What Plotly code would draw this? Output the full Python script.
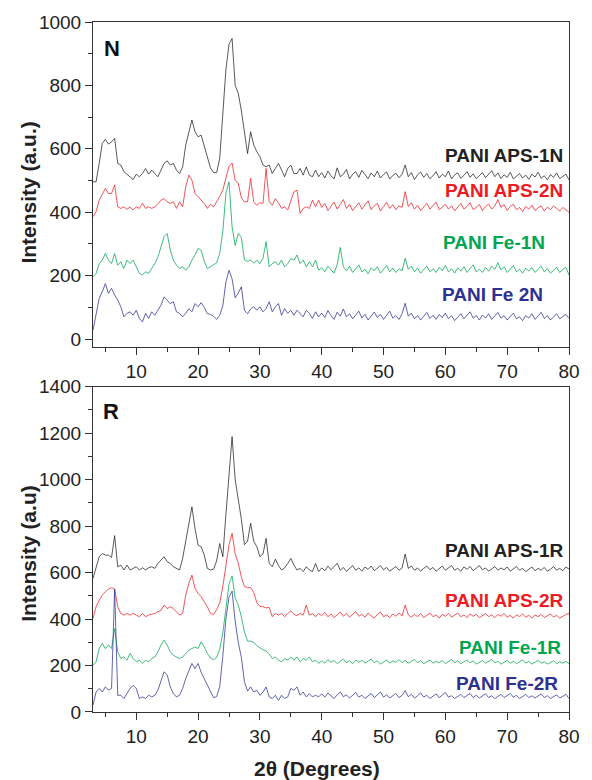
import plotly.graph_objects as go

# 2-theta scan positions (degrees)
two_theta = [
    3.0, 3.5, 4.0, 4.5, 5.0, 5.5, 6.0, 6.5, 7.0, 7.5,
    8.0, 8.5, 9.0, 9.5, 10.0, 10.5, 11.0, 11.5, 12.0, 12.5,
    13.0, 13.5, 14.0, 14.5, 15.0, 15.5, 16.0, 16.5, 17.0, 17.5,
    18.0, 18.5, 19.0, 19.5, 20.0, 20.5, 21.0, 21.5, 22.0, 22.5,
    23.0, 23.5, 24.0, 24.5, 25.0, 25.5, 26.0, 26.5, 27.0, 27.5,
    28.0, 28.5, 29.0, 29.5, 30.0, 30.5, 31.0, 31.5, 32.0, 32.5,
    33.0, 33.5, 34.0, 34.5, 35.0, 35.5, 36.0, 36.5, 37.0, 37.5,
    38.0, 38.5, 39.0, 39.5,
    40.0, 40.5, 41.0, 41.5, 42.0, 42.5, 43.0, 43.5, 44.0, 44.5,
    45.0, 45.5, 46.0, 46.5, 47.0, 47.5, 48.0, 48.5, 49.0, 49.5,
    50.0, 50.5, 51.0, 51.5, 52.0, 52.5, 53.0, 53.5, 54.0, 54.5,
    55.0, 55.5, 56.0, 56.5, 57.0, 57.5, 58.0, 58.5, 59.0, 59.5,
    60.0, 60.5, 61.0, 61.5, 62.0, 62.5, 63.0, 63.5, 64.0, 64.5,
    65.0, 65.5, 66.0, 66.5, 67.0, 67.5, 68.0, 68.5, 69.0, 69.5,
    70.0, 70.5, 71.0, 71.5, 72.0, 72.5, 73.0, 73.5, 74.0, 74.5,
    75.0, 75.5, 76.0, 76.5, 77.0, 77.5, 78.0, 78.5, 79.0, 79.5,
    80.0,
]

# ---- panel N ----
aps_1n = [
    496, 496, 554, 617, 630, 615, 622, 633, 554, 549,
    528, 520, 514, 503, 520, 512, 522, 538, 520, 533,
    522, 512, 533, 554, 562, 549, 554, 533, 522, 543,
    612, 649, 691, 654, 638, 643, 607, 580, 540, 525,
    525, 570, 700, 850, 930, 948, 800, 775, 720, 650,
    585, 654, 612, 591, 575, 549, 543, 549, 522, 538,
    554, 533, 512, 538, 549, 522, 522, 538, 517, 543,
    517, 512, 533, 512,
    525, 508, 530, 515, 505, 540, 512, 520, 535, 505,
    520, 528, 510, 532, 518, 506, 524, 512, 530, 508,
    519, 527, 505, 516, 523, 509, 520, 549, 512, 525,
    503, 518, 527, 510, 522, 506, 515, 528, 508, 520,
    512, 530, 505, 518, 524, 507, 516, 528, 510, 521,
    506, 517, 525, 509, 520, 531, 512, 524, 506, 518,
    510, 526, 505, 515, 522, 508, 517, 504, 520, 511,
    526, 507, 515, 502, 519, 510, 524, 506, 513, 520,
    502,
]
aps_2n = [
    386, 402, 438, 459, 475, 459, 459, 486, 417, 412,
    417, 409, 417, 407, 417, 412, 428, 412, 417, 412,
    417, 426, 438, 443, 433, 428, 433, 412, 433, 417,
    480, 517, 501, 459, 449, 438, 428, 412, 425, 417,
    433, 450, 470, 505, 545, 555, 500, 491, 445, 433,
    433, 507, 433, 422, 430, 428, 538, 433, 422, 443,
    430, 412, 417, 407, 438, 464, 470, 396, 412, 417,
    412, 438, 417, 438,
    415, 428, 405, 420, 432, 410, 424, 440, 412, 425,
    405, 418, 430, 410, 422, 436, 408, 420, 428, 404,
    418, 431, 412, 424, 408, 420, 415, 465, 418, 430,
    410, 422, 405, 418, 428, 410, 420, 432, 408, 416,
    425, 410, 420, 404, 415, 428, 410, 418, 430, 408,
    416, 424, 405, 418, 426, 410, 420, 440, 415, 424,
    406, 418, 425, 408, 415, 402, 418, 410, 422, 405,
    414, 420, 404, 416, 408, 420, 412, 404, 415, 408,
    400,
]
fe_1n = [
    196, 207, 238, 249, 270, 249, 238, 270, 233, 244,
    223, 249, 238, 249, 228, 207, 202, 212, 207, 223,
    238, 259, 291, 323, 333, 281, 249, 233, 223, 228,
    217, 228, 249, 265, 286, 280, 245, 223, 228, 233,
    240, 270, 340, 459, 496, 354, 295, 333, 320, 250,
    245, 249, 240, 249, 238, 255, 307, 228, 238, 244,
    233, 249, 228, 238, 254, 249, 265, 238, 249, 228,
    244, 228, 249, 217,
    225, 212, 230, 218, 208, 235, 289, 228, 215, 230,
    210, 222, 234, 212, 220, 206, 225, 215, 228, 208,
    220, 232, 212, 224, 210, 222, 215, 255, 220, 230,
    212, 224, 208, 220, 230, 212, 222, 210, 226, 215,
    232, 212, 222, 208, 225, 214, 228, 210, 222, 234,
    212, 220, 210, 226, 214, 230, 220, 241, 218, 228,
    210, 222, 232, 212, 220, 208, 224, 214, 226, 210,
    220, 230, 212, 222, 208, 218, 226, 210, 220, 226,
    202,
]
fe_2n = [
    28, 81, 128, 149, 175, 144, 160, 139, 123, 102,
    70, 81, 86, 75, 91, 65, 54, 81, 65, 86,
    75, 91, 107, 133, 123, 112, 118, 86, 81, 70,
    81, 96, 86, 112, 102, 115, 100, 80, 78, 72,
    62, 75, 105, 180, 217, 190, 130, 145, 165, 90,
    80, 95, 102, 91, 102, 86, 96, 118, 86, 102,
    112, 75, 96, 81, 91, 75, 91, 81, 70, 91,
    81, 65, 86, 70,
    82, 68, 90, 74, 62, 85, 72, 95, 70, 80,
    64, 76, 88, 66, 78, 60, 74, 85, 68, 78,
    62, 75, 88, 66, 74, 62, 80, 113, 72, 82,
    64, 74, 60, 72, 84, 65, 75, 62, 78, 68,
    82, 64, 74, 58, 70, 80, 64, 74, 86, 66,
    74, 60, 76, 66, 80, 62, 72, 84, 66, 74,
    60, 72, 82, 64, 70, 58, 74, 66, 80, 62,
    72, 84, 65, 74, 60, 70, 80, 64, 72, 78,
    65,
]

# ---- panel R ----
aps_1r = [
    575, 625, 668, 682, 675, 675, 665, 759, 625, 632,
    611, 632, 611, 618, 625, 611, 621, 611, 621, 625,
    618, 639, 654, 668, 647, 639, 625, 618, 611, 661,
    733, 805, 883, 790, 718, 711, 675, 618, 611, 615,
    650, 725, 668, 850, 1000, 1185, 1000, 912, 830, 720,
    735, 812, 735, 712, 668, 680, 747, 640, 625, 658,
    630, 611, 620, 639, 661, 632, 611, 618, 604, 625,
    611, 604, 639, 604,
    620, 608, 628, 612, 625, 640, 610, 622, 605, 618,
    630, 610, 620, 606, 624, 614, 628, 608, 618, 630,
    612, 622, 606, 616, 626, 610, 620, 680, 618, 628,
    610, 620, 606, 618, 628, 612, 622, 606, 616, 628,
    610, 620, 630, 610, 618, 606, 624, 614, 626, 608,
    618, 630, 612, 620, 606, 616, 626, 610, 620, 612,
    624, 606, 616, 626, 610, 618, 604, 614, 624, 608,
    618, 610, 622, 606, 614, 626, 610, 618, 608, 624,
    615,
]
aps_2r = [
    402, 453, 481, 503, 517, 529, 535, 529, 453, 424,
    417, 424, 417, 424, 417, 410, 424, 410, 417, 420,
    424, 431, 438, 460, 445, 453, 445, 431, 417, 424,
    503, 553, 589, 532, 510, 496, 474, 453, 424, 420,
    440, 470, 540, 640, 720, 769, 680, 640, 580, 540,
    535, 535, 515, 470, 455, 453, 448, 450, 410, 424,
    417, 424, 410, 424, 435, 420, 415, 424, 417, 460,
    417, 424, 410, 424,
    415, 428, 410, 422, 406, 418, 430, 412, 424, 408,
    420, 432, 412, 420, 408, 426, 414, 404, 420, 430,
    410, 418, 406, 422, 412, 426, 414, 460, 418, 408,
    420, 410, 424, 406, 416, 426, 410, 418, 404, 420,
    412, 424, 408, 416, 426, 410, 418, 406, 422, 412,
    420, 406, 416, 424, 410, 418, 406, 420, 412, 424,
    408, 416, 404, 418, 410, 422, 408, 416, 404, 418,
    410, 420, 406, 414, 422, 408, 416, 404, 414, 420,
    424,
]
fe_1r = [
    201, 216, 273, 295, 273, 288, 273, 359, 259, 230,
    237, 223, 252, 230, 216, 223, 209, 223, 216, 230,
    237, 259, 288, 309, 288, 259, 244, 237, 230, 237,
    252, 266, 273, 280, 273, 302, 280, 252, 232, 225,
    235, 270, 340, 440, 550, 585, 490, 460, 410, 345,
    305, 305, 300, 285, 275, 268, 262, 250, 230, 237,
    223, 216, 230, 223, 237, 223, 237, 216, 230, 223,
    237, 216, 223, 209,
    220, 210, 226, 214, 222, 208, 218, 228, 212, 220,
    208, 224, 214, 222, 210, 218, 228, 212, 220, 206,
    216, 224, 210, 220, 214, 226, 212, 222, 210, 218,
    226, 212, 220, 208, 216, 224, 210, 218, 212, 222,
    208, 216, 226, 212, 220, 208, 216, 224, 212, 220,
    206, 216, 222, 210, 218, 226, 212, 218, 206, 214,
    222, 210, 218, 208, 216, 224, 210, 218, 206, 214,
    222, 210, 216, 206, 214, 220, 208, 216, 210, 218,
    208,
]
fe_2r = [
    29, 86, 101, 86, 108, 94, 101, 529, 72, 72,
    58, 79, 101, 115, 101, 58, 65, 58, 72, 65,
    72, 94, 130, 173, 160, 108, 79, 65, 72, 101,
    144, 173, 209, 187, 209, 170, 144, 115, 90, 62,
    66, 110, 240, 400, 495, 520, 390, 300, 235, 130,
    90, 108, 86, 94, 72, 86, 108, 65, 58, 72,
    50, 72, 58, 65, 101, 94, 108, 72, 86, 65,
    79, 65, 72, 65,
    78, 64, 82, 68, 58, 74, 86, 66, 74, 60,
    72, 84, 64, 72, 58, 70, 80, 62, 72, 86,
    64, 74, 60, 70, 80, 62, 72, 92, 66, 76,
    60, 70, 82, 64, 72, 58, 68, 78, 62, 72,
    84, 64, 70, 58, 68, 76, 62, 70, 80, 62,
    72, 60, 68, 78, 62, 70, 58, 68, 76, 62,
    70, 80, 64, 72, 58, 68, 76, 62, 70, 60,
    68, 78, 62, 70, 58, 66, 74, 60, 68, 76,
    58,
]

for s in [aps_1n, aps_2n, fe_1n, fe_2n, aps_1r, aps_2r, fe_1r, fe_2r]:
    assert len(s) == len(two_theta), len(s)

BLACK, RED, GREEN, BLUE = "#222222", "#ed1c24", "#00a651", "#2e3192"
FONT = "Arial, Liberation Sans, sans-serif"

fig = go.Figure()
for ys, c in [(aps_1n, BLACK), (aps_2n, RED), (fe_1n, GREEN), (fe_2n, BLUE)]:
    fig.add_trace(go.Scatter(x=two_theta, y=ys, mode="lines", line=dict(color=c, width=0.75),
                             xaxis="x", yaxis="y", showlegend=False))
for ys, c in [(aps_1r, BLACK), (aps_2r, RED), (fe_1r, GREEN), (fe_2r, BLUE)]:
    fig.add_trace(go.Scatter(x=two_theta, y=ys, mode="lines", line=dict(color=c, width=0.75),
                             xaxis="x2", yaxis="y2", showlegend=False))

xcommon = dict(range=[3, 80], tick0=0, dtick=10, ticks="outside", ticklen=7, tickwidth=1,
               tickcolor="#333", showline=True, linecolor="#333", linewidth=1, mirror=True,
               showgrid=False, zeroline=False, tickfont=dict(size=19, color="#222"),
               minor=dict(ticks="outside", ticklen=4, tick0=0, dtick=5, tickcolor="#333"))
ycommon = dict(tick0=0, dtick=200, ticks="outside", ticklen=7, tickwidth=1,
               tickcolor="#333", showline=True, linecolor="#333", linewidth=1, mirror=True,
               showgrid=False, zeroline=False, tickfont=dict(size=19, color="#222"),
               minor=dict(ticks="outside", ticklen=4, tick0=0, dtick=100, tickcolor="#333"))

fig.update_layout(
    width=592, height=780,
    margin=dict(l=93, r=12, t=22, b=68),
    paper_bgcolor="white", plot_bgcolor="white",
    font=dict(family=FONT, color="#222"),
    xaxis=dict(domain=[0, 1], anchor="y", **xcommon),
    yaxis=dict(domain=[0.529, 1], anchor="x", range=[-25, 1000], **ycommon),
    xaxis2=dict(domain=[0, 1], anchor="y2", **xcommon),
    yaxis2=dict(domain=[0, 0.4715], anchor="x2", range=[0, 1400], **ycommon),
)

labels = [
    ("x", "y", 79.4, 580, "PANI APS-1N", BLACK),
    ("x", "y", 79.4, 468, "PANI APS-2N", RED),
    ("x", "y", 76.4, 303, "PANI Fe-1N", GREEN),
    ("x", "y", 76.1, 139, "PANI Fe 2N", BLUE),
    ("x2", "y2", 79.5, 694, "PANI APS-1R", BLACK),
    ("x2", "y2", 79.5, 481, "PANI APS-2R", RED),
    ("x2", "y2", 79.1, 276, "PANI Fe-1R", GREEN),
    ("x2", "y2", 78.6, 124, "PANI Fe-2R", BLUE),
]
for xr, yr, xv, yv, txt, c in labels:
    fig.add_annotation(x=xv, y=yv, xref=xr, yref=yr, text="<b>%s</b>" % txt, showarrow=False,
                       xanchor="right", yanchor="middle", font=dict(size=19, color=c))

fig.add_annotation(x=6.1, y=918, xref="x", yref="y", text="<b>N</b>", showarrow=False,
                   xanchor="center", yanchor="middle", font=dict(size=22, color="#111"))
fig.add_annotation(x=5.9, y=1293, xref="x2", yref="y2", text="<b>R</b>", showarrow=False,
                   xanchor="center", yanchor="middle", font=dict(size=22, color="#111"))

fig.add_annotation(x=-0.1355, y=0.752, xref="paper", yref="paper", text="<b>Intensity (a.u.)</b>",
                   textangle=-90, showarrow=False, xanchor="center", yanchor="middle",
                   font=dict(size=21, color="#222"))
fig.add_annotation(x=-0.1355, y=0.230, xref="paper", yref="paper", text="<b>Intensity (a.u)</b>",
                   textangle=-90, showarrow=False, xanchor="center", yanchor="middle",
                   font=dict(size=21, color="#222"))
fig.add_annotation(x=0.47, y=-0.0812, xref="paper", yref="paper", text="<b>2θ (Degrees)</b>",
                   showarrow=False, xanchor="center", yanchor="middle",
                   font=dict(size=21, color="#222"))

# drop the browser's default 8px body margin so the figure sits at the page corner
fig.write_html("out.html", config={"displayModeBar": False},
               post_script="document.body.style.margin='0';")
